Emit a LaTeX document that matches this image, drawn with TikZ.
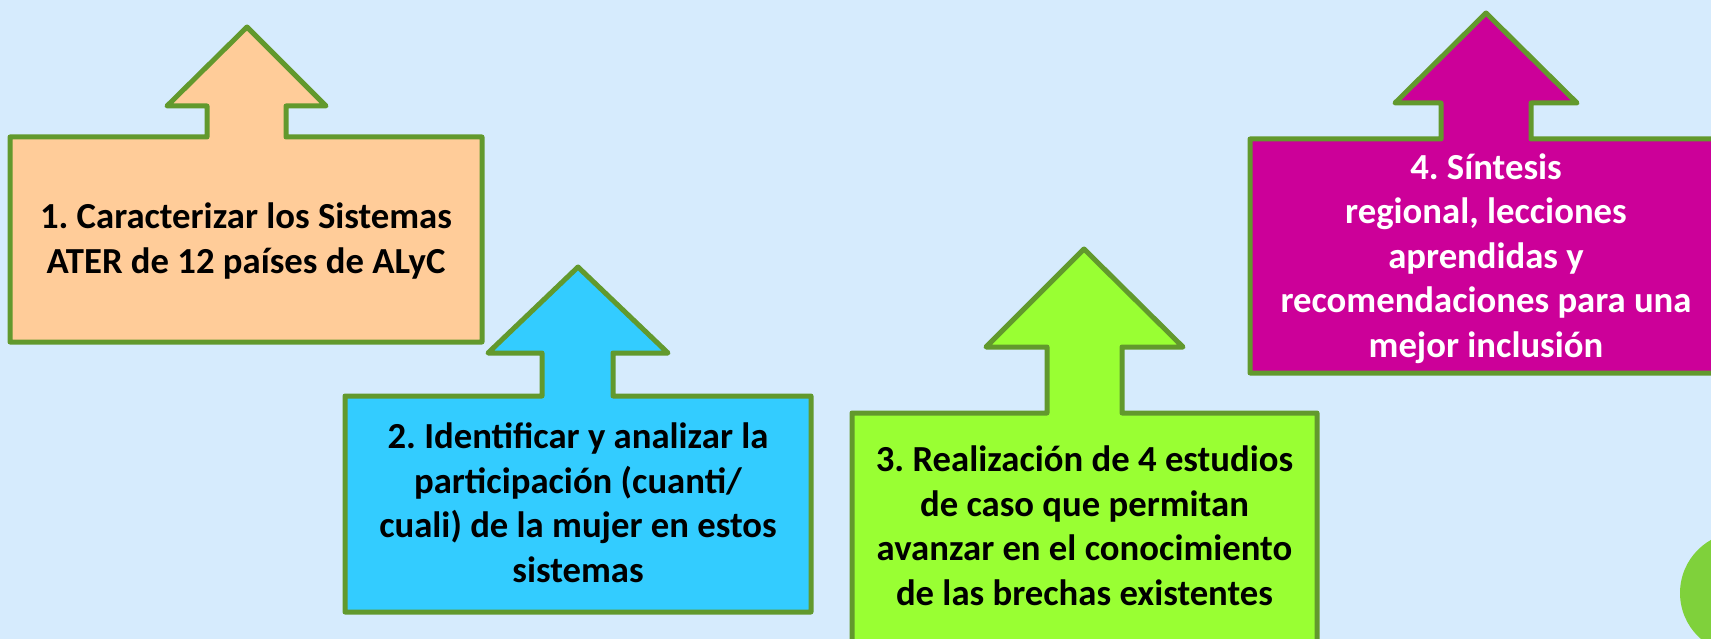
\documentclass[tikz,border=0pt]{standalone}
\usepackage{fontspec}
\setmainfont{Carlito}
\frenchspacing
\definecolor{bg}{HTML}{D6EBFD}
\definecolor{edge}{HTML}{62992D}
\definecolor{peach}{HTML}{FFCC99}
\definecolor{sky}{HTML}{33CCFF}
\definecolor{lime}{HTML}{99FF33}
\definecolor{magenta4}{HTML}{CC0099}
\definecolor{dotgreen}{HTML}{7FD13B}
\tikzset{
  arrowshape/.style={draw=edge, line width=5pt, line join=round},
  label/.style={inner sep=0pt, align=center, anchor=base,
    font=\fontsize{36.7}{44.5}\selectfont\bfseries}
}
\begin{document}
\begin{tikzpicture}[x=1pt,y=-1pt]
\useasboundingbox (0,0) rectangle (1711,639);
\clip (0,0) rectangle (1711,639);
\fill[bg] (0,0) rectangle (1711,639);
% shape 1
\draw[arrowshape, fill=peach] (10,342) -- (10,137) -- (207,137) -- (207,106) -- (167,106) -- (247,27) -- (326,106) -- (286,106) -- (286,137) -- (482,137) -- (482,342) -- cycle;
\node[label] (t1) at (246,273) {1. Caracterizar los Sistemas\\ATER de 12 países de ALyC};
% shape 2
\draw[arrowshape, fill=sky] (345,612) -- (345,396) -- (542,396) -- (542,353) -- (488,353) -- (578,267) -- (668,353) -- (613,353) -- (613,396) -- (811,396) -- (811,612) -- cycle;
\node[label] (t2) at (578,582) {2. Identificar y analizar la\\participación (cuanti/\\cuali) de la mujer en estos\\sistemas};
% shape 3
\draw[arrowshape, fill=lime] (852,665) -- (852,413) -- (1047,413) -- (1047,347) -- (986,347) -- (1084,249) -- (1183,347) -- (1122,347) -- (1122,413) -- (1317,413) -- (1317,665) -- cycle;
\node[label] (t3) at (1084.5,605) {3. Realización de 4 estudios\\de caso que permitan\\avanzar en el conocimiento\\de las brechas existentes};
% shape 4
\draw[arrowshape, fill=magenta4] (1250,373) -- (1250,139) -- (1441,139) -- (1441,103) -- (1395,103) -- (1486,13) -- (1577,103) -- (1531,103) -- (1531,139) -- (1722,139) -- (1722,373) -- cycle;
\node[label, text=white] (t4) at (1486,357) {4. Síntesis\\regional, lecciones\\aprendidas y\\recomendaciones para una\\mejor inclusión};
% corner dot
\fill[dotgreen] (1741,593) circle (61);
\end{tikzpicture}
\end{document}
